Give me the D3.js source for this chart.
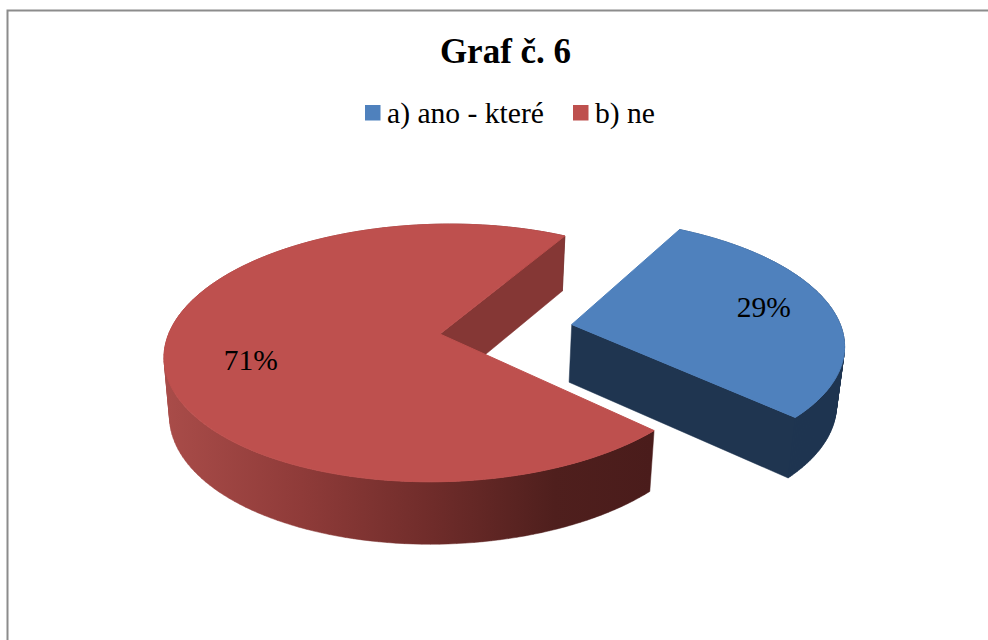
<!DOCTYPE html>
<html>
<head>
<meta charset="utf-8">
<script src="https://cdn.jsdelivr.net/npm/d3@7"></script>
<style>
    body { margin: 0; background: #fff; }
    svg { display: block; }
    text { font-family: "Liberation Serif", serif; fill: #000; }
</style>
</head>
<body>
<svg width="988" height="640"></svg>
<script>
const title = "Graf č. 6"
const categories = ["a) ano - které", "b) ne"]
const values = [29, 71]
const topColors = ["#4f81bd", "#be504e"]

const svg = d3.select("svg")

// chart frame, only left and top edge fall inside the picture
svg.append("path")
    .attr("d", "M7.5,640V10.5H988")
    .attr("fill", "none")
    .attr("stroke", "#8c8c8c")
    .attr("stroke-width", 2)

svg.append("text")
    .attr("x", 505.5).attr("y", 63)
    .attr("text-anchor", "middle")
    .attr("font-size", 35)
    .attr("font-weight", "bold")
    .text(title)

// legend
const legendX = [365, 573]
categories.forEach(function(name, i) {
    svg.append("rect")
        .attr("x", legendX[i]).attr("y", 105)
        .attr("width", 15.5).attr("height", 15.5)
        .attr("fill", topColors[i])
    svg.append("text")
        .attr("x", legendX[i] + 22).attr("y", 123)
        .attr("font-size", 29.6)
        .text(name)
})

// perspective disc: unit circle on the table -> screen
const cx = 440, cy = 334, A = 273, B = 126, k = 0.147
const shear = 0.017
const depth = 58
function project(u, v, lower) {
    const w = 1 - k * v
    const dx = A * u / w
    const dy = B * v / w - shear * dx
    if (lower) return [cx + 0.98 * dx, cy + 1.03 * dy + depth]
    return [cx + dx, cy + dy]
}

const pie = d3.pie().sort(null)
    .startAngle(31 * Math.PI / 180)
    .endAngle(391 * Math.PI / 180)
const slices = pie(values)
const explode = [0.49, 0]
const radius = [0.985, 1]
const line = d3.line()

const defs = svg.append("defs")
const grad = defs.append("linearGradient")
    .attr("id", "redSide")
    .attr("gradientUnits", "userSpaceOnUse")
    .attr("x1", 165).attr("x2", 652).attr("y1", 0).attr("y2", 0)
grad.selectAll("stop")
    .data([[0, "#a94c49"], [0.28, "#8f3b39"], [0.55, "#6f2c2a"], [0.8, "#4f1f1d"], [1, "#4a1c1b"]])
    .enter().append("stop")
    .attr("offset", function(d) { return d[0] })
    .attr("stop-color", function(d) { return d[1] })

function offsetOf(s, i) {
    const mid = (s.startAngle + s.endAngle) / 2
    return [explode[i] * Math.sin(mid), -explode[i] * Math.cos(mid)]
}

function arcPoints(s, i, lower) {
    const o = offsetOf(s, i)
    const n = 160
    return d3.range(n + 1).map(function(j) {
        const a = s.startAngle + (s.endAngle - s.startAngle) * j / n
        return project(o[0] + radius[i] * Math.sin(a), o[1] - radius[i] * Math.cos(a), lower)
    })
}

function edgeWall(s, i, angle) {
    const o = offsetOf(s, i)
    const u = o[0] + radius[i] * Math.sin(angle), v = o[1] - radius[i] * Math.cos(angle)
    return [project(o[0], o[1], false), project(u, v, false),
            project(u, v, true), project(o[0], o[1], true)]
}

// same winding everywhere, or overlapping quads cancel out in one path
function quadPath(points) {
    const pts = d3.polygonArea(points) < 0 ? points.slice().reverse() : points
    return line(pts) + "Z"
}

function drawShape(points, fill, strokeWidth) {
    svg.append("path")
        .attr("d", line(points) + "Z")
        .attr("fill", fill)
        .attr("stroke", fill)
        .attr("stroke-width", strokeWidth || 0.5)
        .attr("stroke-linejoin", "round")
}

// outer side as strips between top and lower rim, so the silhouette stays straight
function drawSide(s, i, fill, extra) {
    const up = arcPoints(s, i, false)
    const down = arcPoints(s, i, true)
    let d = d3.range(up.length - 1).map(function(j) {
        return quadPath([up[j], up[j + 1], down[j + 1], down[j]])
    }).join("")
    if (extra) d += quadPath(extra)
    svg.append("path")
        .attr("d", d)
        .attr("fill", fill)
        .attr("stroke", fill)
        .attr("stroke-width", 0.5)
}

// red slice: walls first, top face over them
const red = slices[1]
drawSide(red, 1, "url(#redSide)")
drawShape(edgeWall(red, 1, red.endAngle), "#853735")
drawShape([project(0, 0, false)].concat(arcPoints(red, 1, false)), topColors[1], 1)

// blue slice
const blue = slices[0]
const blueOff = offsetOf(blue, 0)
drawSide(blue, 0, "#1f3550", edgeWall(blue, 0, blue.endAngle))
drawShape([project(blueOff[0], blueOff[1], false)].concat(arcPoints(blue, 0, false)), topColors[0], 1)

// data labels
const labelR = [0.73, 0.69]
const labelNudge = [-3, 13]
slices.forEach(function(s, i) {
    const o = offsetOf(s, i)
    const mid = (s.startAngle + s.endAngle) / 2
    const p = project(o[0] + labelR[i] * Math.sin(mid), o[1] - labelR[i] * Math.cos(mid), false)
    svg.append("text")
        .attr("x", p[0]).attr("y", p[1] + labelNudge[i] + 9)
        .attr("text-anchor", "middle")
        .attr("font-size", 29.5)
        .text(values[i] + "%")
})
</script>
</body>
</html>
